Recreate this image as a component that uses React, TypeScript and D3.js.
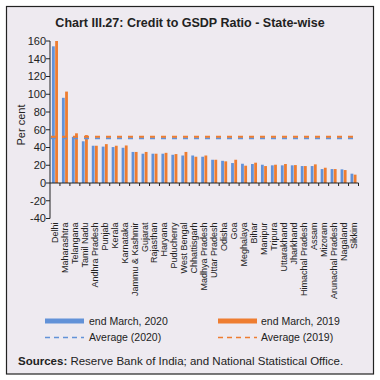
import React from "react";
import * as d3 from "d3";

const states = ["Delhi","Maharashtra","Telangana","Tamil Nadu","Andhra Pradesh","Punjab","Kerala","Karnataka","Jammu & Kashmir","Gujarat","Rajasthan","Haryana","Puducherry","West Bengal","Chhattisgarh","Madhya Pradesh","Uttar Pradesh","Odisha","Goa","Meghalaya","Bihar","Manipur","Tripura","Uttarakhand","Jharkhand","Himachal Pradesh","Assam","Mizoram","Arunachal Pradesh","Nagaland","Sikkim"];
const values2020 = [154,96,52,47,42,41,40.5,39.7,35,33,33,33,31.8,31,31,29.6,26.2,25,22.5,21.7,21.4,20.6,19.9,19.9,19.9,19.1,19.1,15.7,15.7,15.4,10.5];
const values2019 = [160,103,56,54,42,43.8,42,42.3,35,35,33,34,32.6,35,29.6,31,26.2,24.4,26.2,19.5,22.9,19.1,20.6,21.4,20.2,19.1,21,17.2,15.7,14.6,9.4];
const avg2020 = 50.5;
const avg2019 = 52;
const yTicks = [-40,-20,0,20,40,60,80,100,120,140,160];

const BLUE = "#6292d8";
const ORANGE = "#ee7d31";

export default function App() {
  const x = d3.scaleBand<string>().domain(states).range([50, 358.5]);
  const y = d3.scaleLinear().domain([-40, 160]).range([218.5, 41]);
  const bw = 2.8;
  const font = "Liberation Sans, Arial, sans-serif";
  const x0 = 50, x1 = 358.5;
  return (
    <svg width={380} height={380} style={{ position: "absolute", left: 0, top: 0 }} fontFamily={font}>
      <rect x={6.5} y={6.5} width={367} height={367.5} fill="#eeeaf0" stroke="#222" strokeWidth={1.2} />
      <text x={190} y={27} textAnchor="middle" fontSize={12.5} fontWeight="bold" fill="#222">Chart III.27: Credit to GSDP Ratio - State-wise</text>
      {/* bars */}
      {states.map((s, i) => {
        const c = (x(s) as number) + x.bandwidth() / 2;
        return (
          <g key={s}>
            <rect x={c - bw - 0.2} width={bw} y={y(values2020[i])} height={y(0) - y(values2020[i])} fill={BLUE} />
            <rect x={c + 0.2} width={bw} y={y(values2019[i])} height={y(0) - y(values2019[i])} fill={ORANGE} />
          </g>
        );
      })}
      {/* averages */}
      <line x1={x0 + 1} x2={355} y1={y(avg2020)} y2={y(avg2020)} stroke={BLUE} strokeWidth={2} strokeDasharray="5,6" />
      <line x1={x0 + 1} x2={355} y1={y(avg2019)} y2={y(avg2019)} stroke={ORANGE} strokeWidth={2} strokeDasharray="5,6" />
      {/* y axis */}
      <line x1={x0} x2={x0} y1={y(160)} y2={y(-40)} stroke="#222" strokeWidth={1} />
      {yTicks.map(t => (
        <g key={t}>
          <line x1={x0 - 4} x2={x0} y1={y(t)} y2={y(t)} stroke="#222" />
          <text x={x0 - 4} y={y(t)} dy="0.35em" textAnchor="end" fontSize={11} fill="#222">{t}</text>
        </g>
      ))}
      <text transform={`translate(25,${125}) rotate(-90)`} textAnchor="middle" fontSize={11} fill="#222">Per cent</text>
      {/* x axis */}
      <line x1={x0} x2={x1} y1={y(0)} y2={y(0)} stroke="#222" strokeWidth={1} />
      {states.map((s) => (
        <line key={"t" + s} x1={(x(s) as number) + x.bandwidth()} x2={(x(s) as number) + x.bandwidth()} y1={y(0)} y2={y(0) + 3} stroke="#222" />
      ))}
      {states.map(s => {
        const c = (x(s) as number) + x.bandwidth() / 2;
        return (
          <text key={"l" + s} transform={`translate(${c + 3},${y(-40) + 4}) rotate(-90)`} textAnchor="end" fontSize={9} fill="#222">{s}</text>
        );
      })}
      {/* legend */}
      <rect x={45} y={318.5} width={39} height={5} fill={BLUE} />
      <text x={89} y={324.5} fontSize={10.5} fill="#222">end March, 2020</text>
      <rect x={218} y={318.5} width={39} height={5} fill={ORANGE} />
      <text x={261} y={324.5} fontSize={10.5} fill="#222">end March, 2019</text>
      <line x1={45} x2={84} y1={337.5} y2={337.5} stroke={BLUE} strokeWidth={1.5} strokeDasharray="5,4" />
      <text x={89} y={341} fontSize={10.5} fill="#222">Average (2020)</text>
      <line x1={218} x2={257} y1={337.5} y2={337.5} stroke={ORANGE} strokeWidth={1.5} strokeDasharray="5,4" />
      <text x={261} y={341} fontSize={10.5} fill="#222">Average (2019)</text>
      <text x={18} y={365} fontSize={11.5} fill="#222"><tspan fontWeight="bold">Sources:</tspan> Reserve Bank of India; and National Statistical Office.</text>
    </svg>
  );
}
